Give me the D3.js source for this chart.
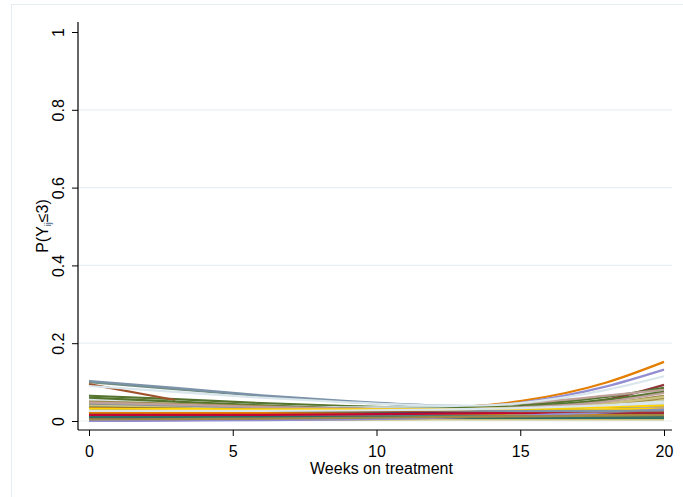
<!DOCTYPE html>
<html>
<head>
<meta charset="utf-8">
<script src="https://cdn.jsdelivr.net/npm/d3@7"></script>
<style>
  html, body { margin: 0; padding: 0; background: #fff; }
  svg { display: block; font-family: Arial, "Liberation Sans", sans-serif; }
</style>
</head>
<body>
<svg id="chart" width="683" height="497"></svg>
<script>
// Visit weeks at which each subject's fitted probability is evaluated
const weeks = [0, 3, 6, 9, 12, 15, 18, 20];

// Fitted P(Y_ij <= 3) per subject (null = no further visits)
const subjects = [
  [0.012, 0.012, 0.013, 0.015, 0.017, 0.018, 0.017, 0.016],
  [0.040, 0.036, 0.032, 0.029, 0.029, 0.034, 0.055, 0.093],
  [0.065, 0.056, 0.046, 0.038, 0.034, 0.041, 0.062, 0.085],
  [0.048, 0.042, 0.036, 0.032, 0.034, 0.051, 0.099, 0.152],
  [0.100, 0.082, 0.064, 0.049, 0.038, 0.034, 0.036, 0.038],
  [0.008, 0.008, 0.009, 0.011, 0.014, 0.017, 0.020, 0.022],
  [0.042, 0.037, 0.032, 0.030, 0.032, 0.047, 0.089, 0.132],
  [0.003, 0.003, 0.003, 0.003, 0.004, 0.004, 0.004, 0.004],
  [0.095, 0.054, null, null, null, null, null, null],
  [0.103, 0.085, 0.066, 0.051, 0.040, 0.036, 0.038, 0.040],
  [0.015, 0.014, 0.014, 0.015, 0.016, 0.016, 0.015, 0.014],
  [0.030, 0.027, 0.024, 0.022, 0.023, 0.029, 0.045, 0.065],
  [0.035, 0.033, 0.030, 0.030, 0.034, 0.045, 0.065, 0.080],
  [0.025, 0.027, 0.028, 0.030, 0.030, 0.028, 0.025, null],
  [0.055, 0.048, 0.040, 0.035, 0.035, 0.046, 0.080, 0.115],
  [0.038, 0.036, 0.033, 0.029, 0.025, 0.021, 0.018, 0.016],
  [0.020, 0.019, 0.018, 0.018, 0.019, 0.021, 0.024, 0.027],
  [0.060, 0.050, 0.040, 0.032, 0.028, 0.030, 0.040, 0.055],
  [0.045, 0.040, 0.035, 0.030, 0.026, 0.024, 0.024, 0.025],
  [0.030, 0.028, 0.025, 0.023, 0.021, 0.020, 0.019, 0.018],
  [0.012, 0.012, 0.012, 0.013, 0.014, 0.016, 0.018, 0.020],
  [0.010, 0.011, 0.012, 0.015, 0.020, 0.027, 0.038, 0.047],
  [0.020, 0.020, 0.020, 0.021, 0.023, 0.029, 0.040, 0.055],
  [0.042, 0.038, 0.034, 0.030, 0.027, 0.026, 0.027, 0.028],
  [0.028, 0.026, 0.024, 0.022, 0.021, 0.021, 0.022, 0.023],
  [0.006, 0.006, 0.007, 0.007, 0.008, 0.008, 0.008, 0.008],
  [0.050, 0.044, 0.038, 0.032, 0.029, 0.031, 0.040, 0.060],
  [0.025, 0.024, 0.023, 0.022, 0.022, 0.024, 0.029, 0.034],
  [0.018, 0.020, 0.022, 0.024, 0.026, 0.028, 0.030, 0.031],
  [0.090, 0.075, 0.060, 0.048, 0.040, 0.038, 0.042, 0.050],
  [0.022, 0.022, 0.022, 0.022, 0.021, 0.020, 0.019, 0.018],
  [0.005, 0.005, 0.006, 0.007, 0.009, 0.012, 0.015, 0.018],
  [0.035, 0.033, 0.031, 0.030, 0.032, 0.038, 0.055, 0.075],
  [0.022, 0.021, 0.020, 0.019, 0.018, 0.017, 0.016, 0.015],
  [0.014, 0.014, 0.014, 0.014, 0.014, 0.013, 0.012, 0.011],
  [0.016, 0.016, 0.016, 0.017, 0.019, 0.021, 0.022, 0.023],
  [0.000, 0.001, 0.002, 0.004, 0.008, 0.014, 0.022, 0.030],
  [0.040, 0.037, 0.034, 0.031, 0.030, 0.033, 0.045, 0.062],
  [0.033, 0.031, 0.029, 0.027, 0.026, 0.025, 0.025, 0.025],
  [0.045, 0.040, 0.035, 0.031, 0.028, 0.026, 0.026, 0.027],
  [0.010, 0.010, 0.010, 0.010, 0.011, 0.011, 0.011, 0.011],
  [0.004, 0.005, 0.006, 0.008, 0.010, 0.012, 0.014, 0.015],
  [0.047, 0.042, 0.036, 0.032, 0.030, 0.035, 0.050, 0.072],
  [0.032, 0.031, 0.030, 0.030, 0.030, 0.032, 0.036, 0.040],
  [0.026, 0.026, 0.026, 0.027, 0.029, 0.033, 0.040, 0.046]
];

const xTicks = [0, 5, 10, 15, 20];
const yTicks = [0, 0.2, 0.4, 0.6, 0.8, 1];
const yGrid = [0, 0.2, 0.4, 0.6, 0.8];

// s2color-style line palette, cycled over subjects
const palette = ["#1a476f", "#90353b", "#55752f", "#e37e00", "#6e8e84",
                 "#c10534", "#938dd2", "#cac27e", "#a0522d", "#7b92a8",
                 "#2d6d66", "#9c8847", "#bfa19c", "#ffd200", "#d9e6eb"];

const svg = d3.select("#chart");

// outer graph region frame
svg.append("rect")
  .attr("x", 11.5).attr("y", 4.5)
  .attr("width", 700).attr("height", 520)
  .attr("fill", "#fff").attr("stroke", "#e6eef1").attr("stroke-width", 1);

const x = d3.scaleLinear().domain([0, 20]).range([89, 664]);
const y = d3.scaleLinear().domain([0, 1]).range([421, 32]);

const axisX0 = 78, axisY0 = 430, plotTop = 22, plotRight = 672;
const fmt = d => (d === 0 || d === 1) ? String(d) : d3.format(".1f")(d);

// horizontal grid
svg.append("g").selectAll("line").data(yGrid).join("line")
  .attr("x1", axisX0).attr("x2", plotRight)
  .attr("y1", d => y(d)).attr("y2", d => y(d))
  .attr("stroke", "#e7f0f2").attr("stroke-width", 1.2);

// subject trajectories
const line = d3.line()
  .defined(d => d[1] != null)
  .curve(d3.curveMonotoneX)
  .x(d => x(d[0]))
  .y(d => y(d[1]));

svg.append("g").attr("fill", "none")
  .selectAll("path").data(subjects).join("path")
  .attr("d", vals => line(weeks.map((w, i) => [w, vals[i]])))
  .attr("stroke", (d, i) => palette[i % palette.length])
  .attr("stroke-width", 2.2)
  .attr("stroke-linejoin", "round");

// y axis with vertical tick labels
const gy = svg.append("g").attr("transform", `translate(${axisX0},0)`)
  .call(d3.axisLeft(y).tickValues(yTicks).tickSize(6).tickFormat(fmt));
gy.select(".domain").attr("d", `M0,${plotTop}V${axisY0}`).attr("stroke", "#000").attr("stroke-width", 1.2);
gy.selectAll(".tick line").attr("stroke", "#000").attr("stroke-width", 1);
gy.selectAll(".tick text")
  .attr("x", null).attr("dy", null)
  .attr("transform", "translate(-14,0) rotate(-90)")
  .attr("text-anchor", "middle")
  .attr("font-size", 16).attr("fill", "#000");

// x axis
const gx = svg.append("g").attr("transform", `translate(0,${axisY0})`)
  .call(d3.axisBottom(x).tickValues(xTicks).tickSize(6).tickPadding(10));
gx.select(".domain").attr("d", `M${axisX0},0H${plotRight}`).attr("stroke", "#000").attr("stroke-width", 1.2);
gx.selectAll(".tick line").attr("stroke", "#000").attr("stroke-width", 1);
gx.selectAll(".tick text").attr("font-size", 16).attr("fill", "#000");

// axis titles
svg.append("text")
  .attr("x", x(10) + 5).attr("y", 474)
  .attr("text-anchor", "middle").attr("font-size", 16).attr("fill", "#000")
  .text("Weeks on treatment");

const yt = svg.append("text")
  .attr("transform", "translate(48,226) rotate(-90)")
  .attr("text-anchor", "middle").attr("font-size", 16).attr("fill", "#000");
yt.append("tspan").text("P(Y");
yt.append("tspan").attr("font-size", 9).attr("dy", 3).attr("fill", "#4f6a8a").text("ij");
yt.append("tspan").attr("dy", -3).text("≤3)");
</script>
</body>
</html>
